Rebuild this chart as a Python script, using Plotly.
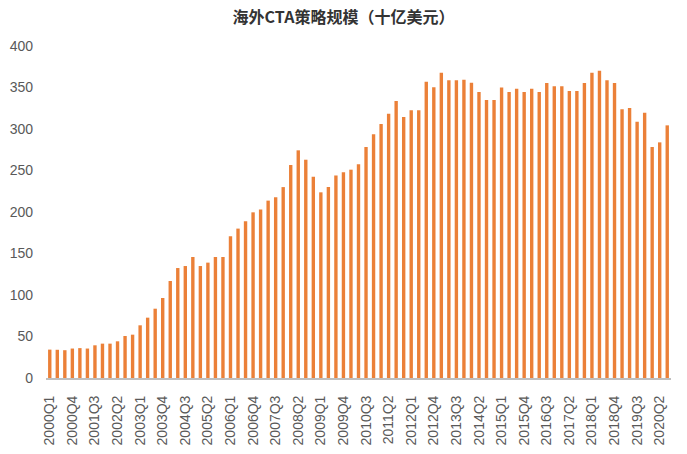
import plotly.graph_objects as go

quarters = [f"{y}Q{q}" for y in range(2000, 2021) for q in range(1, 5)][:83]

aum = [
    34.2, 34.0, 33.5, 35.5,
    36.0, 35.5, 39.4, 41.4,
    41.4, 44.2, 50.6, 52.2,
    63.5, 72.7, 83.5, 96.4,
    116.9, 132.5, 134.9, 145.8,
    134.9, 139.0, 145.8, 145.8,
    170.7, 180.0, 188.8, 199.6,
    203.0, 213.7, 217.7, 230.0,
    256.6, 274.3, 263.0, 242.6,
    223.7, 230.0, 244.0, 248.0,
    251.0, 257.4, 278.3, 293.6,
    306.0, 318.5, 333.7, 314.5,
    322.5, 322.5, 357.0, 350.2,
    367.9, 358.6, 358.6, 359.4,
    355.8, 344.6, 335.0, 335.0,
    350.0, 344.6, 348.6, 344.6,
    348.6, 344.6, 355.4, 351.4,
    351.4, 345.8, 345.8, 355.4,
    367.9, 370.3, 358.6, 355.4,
    323.7, 325.3, 308.8, 319.7,
    278.3, 283.9, 304.4,
]

tick_labels = quarters[::3]
y_ticks = [0, 50, 100, 150, 200, 250, 300, 350, 400]

title_text = "海外CTA策略规模（十亿美元）"

fig = go.Figure(
    go.Bar(
        x=quarters,
        y=aum,
        marker=dict(color="#EB8038", line=dict(width=0)),
        width=0.45,
    )
)

fig.update_layout(
    width=687,
    height=454,
    margin=dict(l=46, r=16, t=46, b=76, autoexpand=False),
    paper_bgcolor="white",
    plot_bgcolor="white",
    showlegend=False,
    title=dict(
        text="<b>" + title_text + "</b>",
        x=0.5,
        xanchor="center",
        y=1 - 17 / 454,
        yanchor="middle",
        font=dict(family="Noto Sans CJK SC", size=16, color="#333333"),
    ),
)

fig.update_xaxes(
    type="category",
    tickmode="array",
    tickvals=tick_labels,
    ticktext=tick_labels,
    tickangle=-90,
    tickfont=dict(family="Liberation Sans", size=14, color="#595959"),
    showline=True,
    linecolor="#BFBFBF",
    linewidth=2,
    showgrid=False,
    ticks="",
    ticklabelstandoff=10,
    automargin=False,
    range=[-0.5, 82.5],
)

fig.update_yaxes(
    range=[0, 400],
    tickvals=y_ticks,
    tickfont=dict(family="Liberation Sans", size=14, color="#595959"),
    showgrid=False,
    showline=False,
    zeroline=False,
    ticks="",
    ticklabelstandoff=12,
    automargin=False,
)

fig.write_html(
    "out.html",
    config={"displayModeBar": False},
    post_script="document.body.style.margin='0';document.body.style.padding='0';",
)
